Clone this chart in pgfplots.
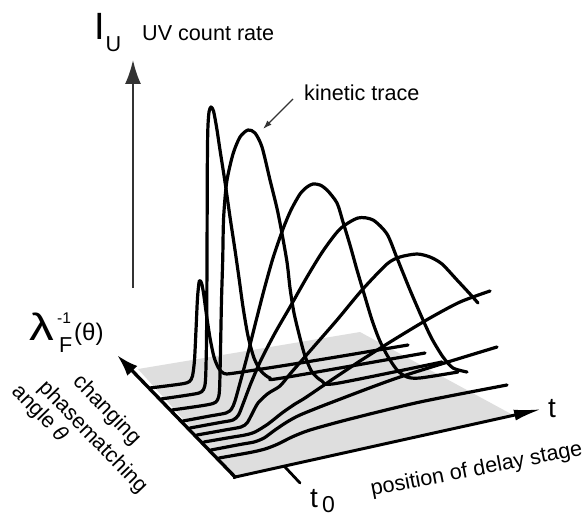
\documentclass[border=0pt]{standalone}
\usepackage{fontspec}
\setmainfont{Liberation Sans}
\usepackage{pgfplots}
\pgfplotsset{compat=1.18}
\usetikzlibrary{arrows.meta}
\definecolor{PlaneGray}{HTML}{DEDEDE}
\definecolor{AxisDark}{HTML}{333333}

\newcommand{\fs}[1]{\fontsize{#1}{#1}\selectfont}

\begin{document}
\begin{tikzpicture}
\begin{axis}[
  scale only axis,
  width=588pt, height=518pt,
  xmin=0, xmax=588, ymin=0, ymax=518,
  y dir=reverse,
  hide axis, clip=false,
  every axis plot/.append style={black, line width=3.2pt, line join=round, line cap=round, no markers},
  trace/.style={smooth, tension=0.45},
]
% floor plane
\addplot[draw=none, fill=PlaneGray] coordinates {(138,369) (360,332) (513,415) (235,477)} -- cycle;

% traces, back to front (pixel coordinates of the schematic)
\addplot[trace] coordinates {
  (150,388) (170,385.5) (184,383.5) (189.5,381.5) (192.5,376) (194.5,360) (196,330) (197.5,298)
  (199.3,281) (201.5,283) (203.5,293) (206.5,315) (210,338) (214,357) (218.5,368) (224,373.5)
  (235,373) (300,363) (408,345)};
\addplot[trace] coordinates {
  (161,399) (185,395.5) (199,393) (203.5,389.5) (205.5,380) (206.5,340) (207,260) (207.3,170)
  (207.8,130) (209,112) (211,107) (213.5,111) (216.7,128) (220,150) (225,182) (230,217)
  (235,250) (239,278) (243,307) (248,336) (254,358) (261,371) (270,378) (282,378) (425,353)};
\addplot[trace] coordinates {
  (172,410) (200,406) (213,403.5) (217.5,400) (219.5,390) (220.5,350) (221.5,300) (222.7,260)
  (223.6,218) (226.7,182) (233,154) (240,137) (248,130) (255,133) (262,147) (270,180)
  (278,213) (286.7,260) (290,288) (294,313) (300,338) (305,356) (312,372) (322,381)
  (336,383.5) (442,362)};
\addplot[trace] coordinates {
  (183,421) (210,416) (226,413) (231.5,409) (235,401) (240,383) (247,357) (255,325) (264,290)
  (273,258) (283,229) (291,210) (300,194) (307,187) (313,184) (320,185) (327,190) (337,203)
  (343,222) (350,245) (357,270) (365,297) (372,320) (379,339) (387,355) (397,370) (407,377)
  (420,378) (458,372)};
\addplot[trace] coordinates {
  (190,428) (220,422.5) (233,420) (238.5,415) (243,404) (251,383) (261,360) (275,333)
  (290,307) (307,277) (323,251) (340,229) (358,218) (373,220) (387,234) (397,258) (410,290)
  (423,320) (432,339) (443,357) (453,368) (467,372)};
\addplot[trace] coordinates {
  (197,435) (225,430) (241,427) (247,423) (252,414) (258,403) (268,393.5) (280,386) (290,374)
  (310,351) (337,320) (362,290) (387,264) (400,257) (417,254) (430,257) (442,264) (457,280)
  (470,294) (478,303)};
\addplot[trace] coordinates {
  (204,442) (230,437.5) (245,435) (255,432) (268,424) (282,413) (295,404) (305,398) (330,381)
  (360,361) (395,339) (430,318) (460,302) (490,291)};
\addplot[trace] coordinates {
  (211,450) (240,444.5) (254,442) (264,438) (275,430) (287,422) (300,415) (330,403) (400,377)
  (497,347)};
\addplot[trace] coordinates {
  (219,458) (250,452.5) (265,449) (278,444) (292,437) (310,430) (350,419) (420,402) (507,385)};

% axes of the schematic
\addplot[line width=3.4pt, line cap=butt, -{Latex[length=22pt,width=14pt]}] coordinates {(236,478) (117,355)};
\addplot[line width=3pt, line cap=butt, -{Latex[length=28pt,width=11pt]}] coordinates {(233,477.5) (542,409)};
\addplot[line width=2.8pt] coordinates {(285,467) (300,483)};
\addplot[AxisDark, line width=1.9pt, line cap=butt, -{Latex[length=24pt,width=16pt]}] coordinates {(133,288) (133,60)};
\addplot[AxisDark, line width=1.3pt, line cap=butt, -{Latex[length=9pt,width=6pt]}] coordinates {(293,99) (263,129)};

% labels
\node[anchor=base west, inner sep=0, font=\fs{38}] at (axis cs:94,40) {I};
\node[anchor=base west, inner sep=0, font=\fs{21.6}] at (axis cs:105.5,52) {U};
\node[anchor=base west, inner sep=0, font=\fs{21.6}] at (axis cs:142,41) {UV count rate};
\node[anchor=base west, inner sep=0, font=\fs{21.6}] at (axis cs:304,101) {kinetic trace};
\node[anchor=base west, inner sep=0, font=\fs{38}] at (axis cs:29,340) {\scalebox{1.3}[1]{λ}};
\node[anchor=base west, inner sep=0, font=\fs{15.5}] at (axis cs:57,323) {-1};
\node[anchor=base west, inner sep=0, font=\fs{21.6}] at (axis cs:59,352) {F};
\node[anchor=base west, inner sep=0, font=\fs{24}] at (axis cs:74,340) {(θ)};
\node[rotate=-46, inner sep=0, font=\fs{21.6}] at (axis cs:106.5,410.5) {changing};
\node[rotate=-46, inner sep=0, font=\fs{21.6}] at (axis cs:92.5,437.5) {phasematching};
\node[rotate=-46, inner sep=0, font=\fs{21.6}] at (axis cs:39.5,414) {angle \textit{θ}};
\node[rotate=11, anchor=base west, inner sep=0, font=\fs{21.6}] at (axis cs:372,496) {position of delay stage};
\node[anchor=base west, inner sep=0, font=\fs{28}] at (axis cs:548,417) {t};
\node[anchor=base west, inner sep=0, font=\fs{28}] at (axis cs:310,507) {t};
\node[anchor=base west, inner sep=0, font=\fs{23}] at (axis cs:322,512) {0};
\end{axis}
\pgfresetboundingbox
\path[use as bounding box] (current axis.south west) rectangle (current axis.north east);
\end{tikzpicture}
\end{document}
